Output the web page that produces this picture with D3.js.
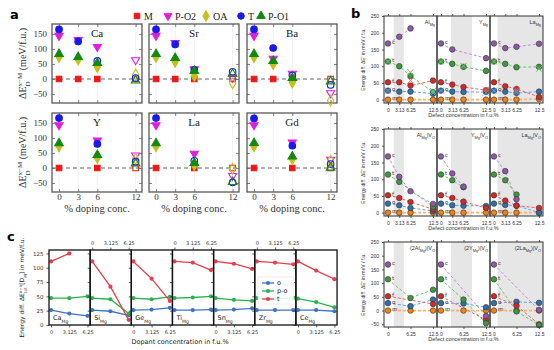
<!DOCTYPE html>
<html>
<head>
<meta charset="utf-8">
<script src="https://cdn.jsdelivr.net/npm/d3@7"></script>
<style>
  body { margin: 0; background: #fff; }
  svg { display: block; }
</style>
</head>
<body>
<svg id="chart" width="554" height="350"></svg>
<script>
// ---------- panel a data (meV/f.u.) ----------
const aSeries = ["M", "P-O2", "OA", "T", "P-O1"];
const aXTicks = [0, 3, 6, 12];
const aYTicks = [-50, 0, 50, 100, 150];
const aDopants = ["Ca", "Sr", "Ba", "Y", "La", "Gd"];

const concCa = [0, 3, 6, 12];
const valsCa = { "M": [0, 0, 0, 0], "P-O2": [144, 130, 107, 63], "OA": [73, 65, 40, 15], "T": [165, 125, 60, 3], "P-O1": [83, 73, 53, -5] };
const concSr = [0, 3, 6, 12];
const valsSr = { "M": [0, 0, 0, 0], "P-O2": [144, 120, 33, 5], "OA": [73, 57, 10, -14], "T": [165, 115, 30, 24], "P-O1": [83, 70, 27, 17] };
const concBa = [0, 3, 6, 12];
const valsBa = { "M": [0, 0, 0, 0], "P-O2": [144, 68, 18, -47], "OA": [73, 50, -12, -72], "T": [165, 103, 12, -20], "P-O1": [83, 60, 3, -8] };
const concY = [0, 6, 12];
const valsY = { "M": [0, 0, 0], "P-O2": [143, 92, 42], "OA": [72, 34, 30], "T": [166, 80, 21], "P-O1": [82, 43, 15] };
const concLa = [0, 6, 12];
const valsLa = { "M": [0, 0, 0], "P-O2": [143, 48, -26], "OA": [72, 10, -3], "T": [166, 24, -48], "P-O1": [82, 17, -47] };
const concGd = [0, 6, 12];
const valsGd = { "M": [0, 0, 0], "P-O2": [143, 85, 28], "OA": [72, 30, 24], "T": [165, 74, 13], "P-O1": [83, 38, 1] };
// open symbols at 6 %
const hollowMid = ["Ca:T", "Ba:P-O2", "Ba:T", "La:T"];

// ---------- panel b data ----------
const bConc = [0, 3.13, 6.25, 12.5];
const bConc3 = [0, 6.25, 12.5];
const bStates = ["c", "t", "f", "o", "m"];
const bCols = ["Al", "Y", "La"];
const bBands = { Al: [1.6, 4.4], Y: [2.8, 8.6], La: [1.0, 14] };

const b1Al = { c: [168, 188, 213, null], t: [114, 100, 71, 23], f: [52, 52, 42, 57], o: [27, 24, 24, 18], m: [0, 0, 0, 0] };
const b1Y  = { c: [168, 150, null, 124], t: [114, 107, 98, 86], f: [52, 45, 38, 28], o: [27, 24, 23, 23], m: [0, 0, 0, 0] };
const b1La = { c: [168, 154, 158, 167], t: [114, 107, 97, 98], f: [52, 40, 32, 8], o: [27, 24, 20, 24], m: [0, 0, 0, 2] };
const b1Crosses = [
  { p: "Al", s: "t", x: 0, v: 114 }, { p: "Al", s: "o", x: 0, v: 27 }, { p: "Al", s: "t", x: 6.25, v: 82 },
  { p: "Al", s: "f", x: 6.25, v: 57 }, { p: "Al", s: "t", x: 12.5, v: 26 }, { p: "Al", s: "o", x: 12.5, v: 20 },
  { p: "Y", s: "t", x: 0, v: 114 }, { p: "Y", s: "o", x: 0, v: 27 }, { p: "Y", s: "t", x: 6.25, v: 101 },
  { p: "Y", s: "o", x: 12.5, v: 21 }, { p: "Y", s: "f", x: 12.5, v: 30 },
  { p: "La", s: "t", x: 0, v: 114 }, { p: "La", s: "o", x: 0, v: 27 }, { p: "La", s: "t", x: 12.5, v: 92 },
  { p: "La", s: "f", x: 6.25, v: 29 }, { p: "La", s: "o", x: 6.25, v: 23 }
];

const b2Al = { c: [168, 107, 64, 26], t: [114, 92, null, 18], f: [52, 44, 32, 10], o: [27, 22, 14, 5], m: [0, 0, 0, 0] };
const b2Y  = { c: [168, 117, 78, null], t: [114, 97, 76, null], f: [52, 44, 33, 14], o: [27, 22, 21, 20], m: [0, 0, 0, 0] };
const b2La = { c: [168, 124, 40, null], t: [114, 97, 54, null], f: [52, 36, 21, 14], o: [27, 23, 21, 0], m: [0, 0, 0, 0] };

const b3Al = { c: [168, null, null], t: [114, 46, 76], f: [52, null, 24], o: [27, 16, 40], m: [0, 0, 0] };
const b3Y  = { c: [168, null, -20], t: [114, 40, -46], f: [52, null, -34], o: [27, 26, 12], m: [0, 0, 0] };
const b3La = { c: [168, null, 2], t: [114, -3, -53], f: [52, 18, -50], o: [27, 32, 28], m: [0, 0, 0] };

// ---------- panel c data ----------
const cPanels = ["Ca", "Si", "Ge", "Ti", "Sn", "Zr", "Ce"];
const cConc = [0, 3.125, 6.25];
const cYTicks = [0, 25, 50, 75, 100, 125];
const cO  = { Ca: [26, 20, 16], Si: [26, 24, 17], Ge: [26, 27, 30], Ti: [26, 26, 27], Sn: [26, 27, 29], Zr: [26, 26, 26], Ce: [26, 26, 24] };
const cPO = { Ca: [47, 47, 50], Si: [47, 45, 20], Ge: [47, 45, 49], Ti: [47, 48, 50], Sn: [47, 44, 42], Zr: [47, 46, 47], Ce: [46, 40, 31] };
const cT  = { Ca: [111, 125, null], Si: [111, 67, 9], Ge: [111, 81, 42], Ti: [111, 109, 96], Sn: [111, 107, 98], Zr: [111, 109, 106], Ce: [111, 95, 80] };

// ---------- helpers ----------
const svg = d3.select("#chart");
const SERIF = "'Liberation Serif', 'DejaVu Serif', serif";
const SANS = "'DejaVu Sans', sans-serif";
const NARROW = "'Liberation Sans', Arial, sans-serif";

function richText(sel, parts, size) {
  parts.forEach(([t, k, dx]) => {
    const ts = sel.append("tspan").text(t);
    if (k === "sub") ts.attr("font-size", size * 0.7).attr("baseline-shift", "sub");
    if (k === "sup") ts.attr("font-size", size * 0.7).attr("baseline-shift", "super");
    if (dx) ts.attr("dx", dx);
  });
}

function styleAxis(g, color, fontSize, family) {
  g.select(".domain").remove();
  g.selectAll(".tick line").attr("stroke", color).attr("stroke-width", 0.8);
  g.selectAll(".tick text").attr("fill", "#333").attr("font-size", fontSize).attr("font-family", family);
}

// ====================== panel a ======================
const aStyle = {
  "M":    { type: d3.symbolSquare,   size: 30, color: "#ee1616", rot: 0 },
  "P-O2": { type: d3.symbolTriangle, size: 28, color: "#e01ee0", rot: 180 },
  "OA":   { type: d3.symbolDiamond,  size: 34, color: "#c4c01a", rot: 0 },
  "T":    { type: d3.symbolCircle,   size: 34, color: "#1a1aee", rot: 0 },
  "P-O1": { type: d3.symbolTriangle, size: 32, color: "#128a12", rot: 0 }
};
const aData = [
  { name: "Ca", conc: concCa, vals: valsCa }, { name: "Sr", conc: concSr, vals: valsSr },
  { name: "Ba", conc: concBa, vals: valsBa }, { name: "Y", conc: concY, vals: valsY },
  { name: "La", conc: concLa, vals: valsLa }, { name: "Gd", conc: concGd, vals: valsGd }
];

const aW = 90, aH = 79;
const aLefts = [52, 149, 247], aTops = [24, 113];
const xA = d3.scaleLinear().domain([-1.1, 13]).range([0, aW]);
const yA = d3.scaleLinear().domain([-80, 183]).range([aH, 0]);

aData.forEach((p, i) => {
  const col = i % 3, row = Math.floor(i / 3);
  const g = svg.append("g").attr("transform", `translate(${aLefts[col]},${aTops[row]})`);

  g.selectAll(".grid").data(aXTicks).join("line")
    .attr("x1", d => xA(d)).attr("x2", d => xA(d))
    .attr("y1", 0).attr("y2", aH)
    .attr("stroke", "#eeeeee").attr("stroke-width", 0.8);

  g.append("line")
    .attr("x1", 0).attr("x2", aW).attr("y1", yA(0)).attr("y2", yA(0))
    .attr("stroke", "#666").attr("stroke-width", 1.1).attr("stroke-dasharray", "4,3");

  const left = g.append("g").call(d3.axisLeft(yA).tickValues(aYTicks).tickSize(-3).tickPadding(5)
    .tickFormat(col === 0 ? d3.format("d") : ""));
  styleAxis(left, "#666", 9, SERIF);
  const right = g.append("g").attr("transform", `translate(${aW},0)`)
    .call(d3.axisRight(yA).tickValues(aYTicks).tickSize(-3).tickFormat(""));
  styleAxis(right, "#666", 9, SERIF);
  const top = g.append("g").call(d3.axisTop(xA).tickValues(aXTicks).tickSize(-3).tickFormat(""));
  styleAxis(top, "#666", 9, SERIF);
  const bottom = g.append("g").attr("transform", `translate(0,${aH})`)
    .call(d3.axisBottom(xA).tickValues(aXTicks).tickSize(-3).tickPadding(2)
      .tickFormat(row === 1 ? d3.format("d") : ""));
  styleAxis(bottom, "#666", 9, SERIF);

  g.append("rect").attr("width", aW).attr("height", aH)
    .attr("fill", "none").attr("stroke", "#5a5a5a").attr("stroke-width", 1.3);

  g.append("text").attr("x", aW / 2).attr("y", 13).attr("text-anchor", "middle")
    .attr("font-family", SERIF).attr("font-size", 11).attr("fill", "#222").text(p.name);

  aSeries.forEach(s => {
    const st = aStyle[s];
    const pts = p.conc.map((c, k) => ({ c, v: p.vals[s][k] }));
    g.selectAll(null).data(pts).join("path")
      .attr("d", d3.symbol().type(st.type).size(st.size))
      .attr("transform", d => `translate(${xA(d.c)},${yA(d.v)}) rotate(${st.rot})`)
      .attr("fill", d => (d.c === 12 || (d.c === 6 && hollowMid.includes(p.name + ":" + s))) ? "none" : st.color)
      .attr("stroke", st.color).attr("stroke-width", 1.1);
  });

  if (row === 1) {
    g.append("text").attr("x", aW / 2).attr("y", aH + 20).attr("text-anchor", "middle")
      .attr("font-family", SERIF).attr("font-size", 10.5).attr("fill", "#333").text("% doping conc.");
  }
});

// y labels panel a
[aTops[0] + aH / 2, aTops[1] + aH / 2].forEach(cy => {
  const t = svg.append("text").attr("transform", `translate(26,${cy}) rotate(-90)`)
    .attr("text-anchor", "middle").attr("font-family", SERIF).attr("font-size", 10).attr("fill", "#333");
  richText(t, [["ΔE", ""], ["D", "sub"], ["x−M", "sup", -5], [" (meV/f.u.)", ""]], 10);
});

// legend panel a
const aLegX = [137, 168, 206, 241, 261];
aSeries.forEach((s, k) => {
  const st = aStyle[s];
  svg.append("path").attr("d", d3.symbol().type(st.type).size(st.size)())
    .attr("transform", `translate(${aLegX[k]},16) rotate(${st.rot})`)
    .attr("fill", st.color).attr("stroke", st.color);
  svg.append("text").attr("x", aLegX[k] + 7).attr("y", 19.5)
    .attr("font-family", SERIF).attr("font-size", 10).attr("fill", "#222").text(s);
});

svg.append("text").attr("x", 10).attr("y", 19).attr("font-family", SANS)
  .attr("font-weight", "bold").attr("font-size", 13).text("a");

// ====================== panel b ======================
const bColor = {
  c: { fill: "#8e58a6", line: "#c48fd8" },
  t: { fill: "#3b9a3b", line: "#6cc46c" },
  f: { fill: "#d62728", line: "#f06262" },
  o: { fill: "#2f6fad", line: "#63a4dd" },
  m: { fill: "#f5820f", line: "#ffb26a" }
};
const bLeft = 384, bW = 53;
const xB = d3.scaleLinear().domain([-1.1, 13.6]).range([0, bW]);

const bRows = [
  { top: 16, h: 87, dom: [-10, 250], ticks: [0, 50, 100, 150, 200, 250], conc: bConc, panels: [b1Al, b1Y, b1La],
    title: n => [[n, ""], ["Mg", "sub"]] },
  { top: 129, h: 87, dom: [-10, 250], ticks: [0, 50, 100, 150, 200, 250], conc: bConc, panels: [b2Al, b2Y, b2La],
    title: n => [[n, ""], ["Mg", "sub"], ["|V", ""], ["O", "sub"]] },
  { top: 242, h: 85, dom: [-60, 250], ticks: [-50, 0, 50, 100, 150, 200, 250], conc: bConc3, panels: [b3Al, b3Y, b3La],
    title: n => [["(2" + n, ""], ["Mg", "sub"], [")|V", ""], ["O", "sub"]] }
];

bRows.forEach((r, ri) => {
  const yB = d3.scaleLinear().domain(r.dom).range([r.h, 0]);
  r.panels.forEach((vals, ci) => {
    const name = bCols[ci];
    const g = svg.append("g").attr("transform", `translate(${bLeft + ci * bW},${r.top})`);
    const band = bBands[name];
    g.append("rect").attr("x", xB(band[0])).attr("y", 0)
      .attr("width", Math.min(xB(band[1]), bW) - xB(band[0])).attr("height", r.h)
      .attr("fill", "#e6e6e6");

    if (ci === 0) {
      const ax = g.append("g").call(d3.axisLeft(yB).tickValues(r.ticks).tickSize(2).tickPadding(3).tickFormat(d3.format("d")));
      styleAxis(ax, "#333", 5, NARROW);
    }
    const tx = g.append("g").call(d3.axisTop(xB).tickValues(r.conc).tickSize(2).tickFormat(""));
    styleAxis(tx, "#333", 5, NARROW);
    const bx = g.append("g").attr("transform", `translate(0,${r.h})`)
      .call(d3.axisBottom(xB).tickValues(r.conc).tickSize(2).tickPadding(3).tickFormat(d => String(d)));
    styleAxis(bx, "#333", 5, NARROW);

    // dashed connecting lines
    bStates.slice().reverse().forEach(s => {
      const pts = r.conc.map((c, k) => ({ c, v: vals[s][k] })).filter(d => d.v !== null);
      g.append("path").datum(pts)
        .attr("d", d3.line().x(d => xB(d.c)).y(d => yB(d.v)))
        .attr("fill", "none").attr("stroke", bColor[s].line)
        .attr("stroke-width", s === "m" ? 1.8 : 1).attr("stroke-dasharray", "3,2");
    });
    bStates.slice().reverse().forEach(s => {
      const pts = r.conc.map((c, k) => ({ c, v: vals[s][k] })).filter(d => d.v !== null);
      g.selectAll(null).data(pts).join("circle")
        .attr("cx", d => xB(d.c)).attr("cy", d => yB(d.v)).attr("r", 2.8)
        .attr("fill", bColor[s].fill).attr("stroke", "#333").attr("stroke-width", 0.6);
      g.append("text").attr("x", xB(0) + 4).attr("y", yB(vals[s][0]) + 0.5)
        .attr("font-family", SANS).attr("font-size", 5.5).attr("fill", "#333").text(s);
    });

    if (ri === 0) {
      b1Crosses.filter(d => d.p === name).forEach(d => {
        const cx = xB(d.x), cy = yB(d.v);
        g.append("path").attr("d", `M${cx - 3},${cy - 3}L${cx + 3},${cy + 3}M${cx - 3},${cy + 3}L${cx + 3},${cy - 3}`)
          .attr("stroke", bColor[d.s].line).attr("stroke-width", 1);
      });
    }

    g.append("rect").attr("width", bW).attr("height", r.h)
      .attr("fill", "none").attr("stroke", "#333").attr("stroke-width", 1);

    const t = g.append("text").attr("x", bW - 2).attr("y", 8).attr("text-anchor", "end")
      .attr("font-family", NARROW).attr("font-size", 5.5).attr("fill", "#333");
    richText(t, r.title(name), 5.5);
  });

  svg.append("text").attr("x", bLeft + 1.5 * bW).attr("y", r.top + r.h + 14).attr("text-anchor", "middle")
    .attr("font-family", NARROW).attr("font-size", 5.5).attr("fill", "#333").text("Defect concentration in f.u.%");
  const yl = svg.append("text").attr("transform", `translate(365,${r.top + r.h / 2}) rotate(-90)`)
    .attr("text-anchor", "middle").attr("font-family", NARROW).attr("font-size", 5).attr("fill", "#333");
  richText(yl, [["Energy diff. ΔE′ in meV / f.u.", ""]], 5);
});

svg.append("text").attr("x", 351).attr("y", 18).attr("font-family", SANS)
  .attr("font-weight", "bold").attr("font-size", 13).text("b");

// ====================== panel c ======================
const cColor = { o: "#3d74c6", po: "#2bb24c", t: "#e3414f" };
const cLeft = 49, cW = 41.15, cTop = 250, cH = 75;
const xC = d3.scaleLinear().domain([-0.35, 6.7]).range([0, cW]);
const yC = d3.scaleLinear().domain([0, 131]).range([cH, 0]);

cPanels.forEach((name, i) => {
  const g = svg.append("g").attr("transform", `translate(${cLeft + i * cW},${cTop})`);
  const ay = g.append("g").call(d3.axisLeft(yC).tickValues(cYTicks).tickSize(2.5).tickPadding(3)
    .tickFormat(i === 0 ? d3.format("d") : ""));
  styleAxis(ay, "#333", 5.5, SANS);
  if (i % 2 === 0) {
    const ax = g.append("g").attr("transform", `translate(0,${cH})`)
      .call(d3.axisBottom(xC).tickValues(cConc).tickSize(2.5).tickPadding(2.5).tickFormat(d => String(d)));
    styleAxis(ax, "#333", 5, SANS);
  } else {
    const ax = g.append("g").call(d3.axisTop(xC).tickValues(cConc).tickSize(2.5).tickPadding(3).tickFormat(d => String(d)));
    styleAxis(ax, "#333", 5, SANS);
  }

  [["o", cO], ["po", cPO], ["t", cT]].forEach(([k, src]) => {
    const pts = cConc.map((c, j) => ({ c, v: src[name][j] })).filter(d => d.v !== null);
    g.append("path").datum(pts)
      .attr("d", d3.line().x(d => xC(d.c)).y(d => yC(d.v)))
      .attr("fill", "none").attr("stroke", cColor[k]).attr("stroke-width", 1.3);
    g.selectAll(null).data(pts).join("circle")
      .attr("cx", d => xC(d.c)).attr("cy", d => yC(d.v)).attr("r", 2.1).attr("fill", cColor[k]);
  });

  g.append("rect").attr("width", cW).attr("height", cH)
    .attr("fill", "none").attr("stroke", "#111").attr("stroke-width", 1.3);

  const t = g.append("text").attr("x", 4).attr("y", cH - 5)
    .attr("font-family", SANS).attr("font-size", 6.5).attr("fill", "#222");
  richText(t, [[name, ""], ["Mg", "sub"]], 6.5);
});

// legend panel c
const cLeg = svg.append("g").attr("transform", "translate(258,277)");
cLeg.append("rect").attr("width", 36).attr("height", 27).attr("rx", 1.5)
  .attr("fill", "#fff").attr("fill-opacity", 0.85).attr("stroke", "#ddd").attr("stroke-width", 0.5);
[["o", "o"], ["po", "p-o"], ["t", "t"]].forEach(([k, lab], j) => {
  const y = 6 + j * 8;
  cLeg.append("line").attr("x1", 4).attr("x2", 16).attr("y1", y).attr("y2", y)
    .attr("stroke", cColor[k]).attr("stroke-width", 1.3);
  cLeg.append("circle").attr("cx", 10).attr("cy", y).attr("r", 2.1).attr("fill", cColor[k]);
  cLeg.append("text").attr("x", 19).attr("y", y + 2.2).attr("font-family", SANS)
    .attr("font-size", 6.5).attr("fill", "#222").text(lab);
});

svg.append("text").attr("x", 180).attr("y", 344).attr("text-anchor", "middle")
  .attr("font-family", SANS).attr("font-size", 6.5).attr("fill", "#222").text("Dopant concentration in f.u.%");
const cyl = svg.append("text").attr("transform", `translate(24,${cTop + cH / 2}) rotate(-90)`)
  .attr("text-anchor", "middle").attr("font-family", SANS).attr("font-size", 6).attr("fill", "#222");
richText(cyl, [["Energy diff. ΔE", ""], ["tot", "sub"], ["x−o", "sup", -6], ["[D", ""], ["M", "sub"], ["] in meV/f.u.", ""]], 6);

svg.append("text").attr("x", 7).attr("y", 241).attr("font-family", SANS)
  .attr("font-weight", "bold").attr("font-size", 13).text("c");
</script>
</body>
</html>
